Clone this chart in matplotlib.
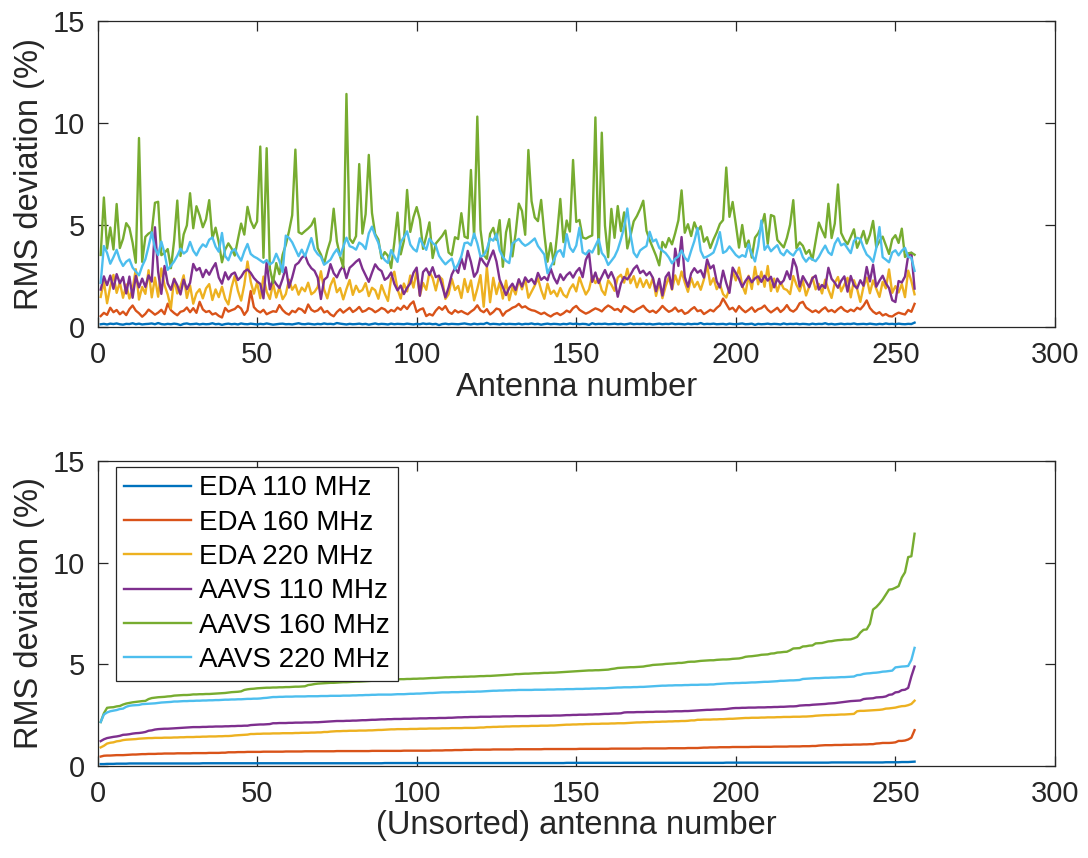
import matplotlib
matplotlib.use("Agg")
import matplotlib.pyplot as plt
import numpy as np

plt.rcParams["font.family"] = ["Liberation Sans", "DejaVu Sans"]

# RMS deviation (%) per antenna (antennas 1..256)
antenna = np.arange(1, 257)

eda_110 = [
    0.12, 0.14, 0.11, 0.15, 0.13, 0.16, 0.12, 0.10, 0.14, 0.13, 0.17, 0.12, 0.15, 0.11, 0.13, 0.14,
    0.16, 0.12, 0.18, 0.13, 0.11, 0.14, 0.12, 0.15, 0.13, 0.08, 0.14, 0.16, 0.12, 0.13, 0.15, 0.11,
    0.14, 0.12, 0.13, 0.17, 0.12, 0.14, 0.09, 0.13, 0.15, 0.12, 0.14, 0.11, 0.16, 0.13, 0.12, 0.15,
    0.13, 0.11, 0.14, 0.12, 0.16, 0.13, 0.10, 0.12, 0.14, 0.15, 0.12, 0.13, 0.11, 0.14, 0.17, 0.13,
    0.12, 0.15, 0.13, 0.11, 0.14, 0.12, 0.16, 0.13, 0.14, 0.12, 0.18, 0.15, 0.13, 0.11, 0.14, 0.12,
    0.13, 0.15, 0.12, 0.14, 0.10, 0.13, 0.16, 0.12, 0.14, 0.13, 0.11, 0.15, 0.12, 0.14, 0.13, 0.12,
    0.15, 0.13, 0.11, 0.14, 0.12, 0.16, 0.13, 0.15, 0.12, 0.14, 0.08, 0.13, 0.15, 0.12, 0.14, 0.13,
    0.12, 0.14, 0.16, 0.13, 0.11, 0.15, 0.12, 0.14, 0.13, 0.19, 0.12, 0.14, 0.13, 0.11, 0.15, 0.12,
    0.14, 0.13, 0.12, 0.15, 0.11, 0.14, 0.13, 0.16, 0.12, 0.14, 0.10, 0.13, 0.15, 0.12, 0.14, 0.13,
    0.11, 0.14, 0.12, 0.16, 0.13, 0.15, 0.12, 0.14, 0.13, 0.09, 0.17, 0.12, 0.14, 0.13, 0.15, 0.12,
    0.13, 0.15, 0.12, 0.14, 0.11, 0.13, 0.16, 0.12, 0.14, 0.13, 0.15, 0.12, 0.14, 0.11, 0.13, 0.15,
    0.12, 0.14, 0.13, 0.16, 0.12, 0.14, 0.13, 0.11, 0.15, 0.12, 0.14, 0.13, 0.18, 0.12, 0.14, 0.13,
    0.15, 0.12, 0.13, 0.14, 0.11, 0.15, 0.13, 0.12, 0.14, 0.16, 0.12, 0.13, 0.15, 0.09, 0.14, 0.12,
    0.13, 0.15, 0.12, 0.14, 0.13, 0.11, 0.16, 0.12, 0.14, 0.13, 0.15, 0.12, 0.14, 0.13, 0.11, 0.15,
    0.12, 0.14, 0.13, 0.17, 0.12, 0.14, 0.11, 0.13, 0.15, 0.12, 0.14, 0.13, 0.16, 0.12, 0.13, 0.14,
    0.12, 0.15, 0.13, 0.11, 0.14, 0.12, 0.16, 0.13, 0.14, 0.12, 0.15, 0.13, 0.12, 0.14, 0.13, 0.20,
]

eda_160 = [
    0.52, 0.68, 0.58, 0.93, 0.71, 0.82, 0.61, 0.74, 0.57, 0.86,
    1.04, 0.79, 0.66, 0.49, 0.63, 0.84, 0.72, 0.59, 0.69, 0.83,
    0.62, 1.13, 0.81, 0.67, 0.56, 0.73, 0.78, 0.94, 0.71, 0.91,
    0.68, 1.22, 0.85, 0.72, 0.77, 0.60, 0.66, 0.53, 0.45, 0.92,
    0.74, 0.81, 0.87, 1.02, 0.89, 0.58, 0.80, 1.75, 0.96, 0.79,
    0.70, 0.83, 0.61, 0.69, 0.76, 0.73, 1.06, 0.82, 0.67, 0.59,
    0.78, 0.71, 0.90, 0.84, 0.68, 1.09, 0.83, 0.74, 0.80, 0.95,
    0.70, 0.77, 0.60, 0.51, 0.72, 0.86, 0.69, 0.81, 0.93, 0.72,
    0.82, 0.97, 0.73, 0.79, 0.91, 0.84,
    0.71, 0.80, 0.92, 0.85, 0.69, 0.82, 0.75, 0.94, 0.83, 1.03,
    0.87, 1.10, 1.24, 0.72, 0.84, 0.90, 0.52, 0.62, 0.55, 0.79,
    0.96, 0.83, 1.01, 0.73, 0.63, 0.81, 0.70, 0.77, 0.68, 0.61,
    0.74, 0.85, 1.05, 0.80, 0.71, 0.86, 0.60, 0.72, 0.89, 0.84,
    0.54, 0.74, 0.82, 0.93, 0.99, 1.12, 0.94, 1.00, 0.88, 0.81,
    0.78, 0.70, 0.62, 0.69, 0.58, 0.50, 0.61, 0.67, 0.57, 0.66,
    0.79, 0.71, 0.91, 1.02, 0.83, 0.73, 0.64, 0.71, 0.81, 0.90,
    0.84, 0.75, 0.92, 1.04, 0.95, 0.82, 0.87, 0.73, 1.01, 0.92,
    0.80, 0.72, 0.85, 0.93,
    1.03, 0.84, 0.72, 0.79, 0.68, 0.83, 1.02, 0.86, 0.73, 0.80,
    0.94, 0.74, 0.82, 0.63, 0.70, 0.85, 0.96, 0.76, 0.81, 0.62,
    0.72, 0.83, 0.75, 0.92, 1.05, 1.38, 1.12, 0.85, 0.93, 0.74,
    1.01, 0.84, 0.71, 0.82, 0.95, 0.73, 0.86, 0.91, 1.04, 0.83,
    0.70, 0.81, 0.93, 0.72, 0.85, 1.06, 0.82, 0.74, 0.87, 1.15,
    1.22, 0.94, 0.83, 0.72, 0.80, 0.69, 0.84, 0.95, 0.75, 0.82,
    0.71, 0.86, 0.97, 0.81, 0.73, 0.84, 0.76, 0.93, 0.85, 1.03,
    1.29, 0.92, 0.74, 0.63, 0.71, 0.55, 0.62, 0.52, 0.50, 0.61,
    0.69, 0.64, 0.60, 0.82, 0.73, 1.12,
]

eda_220 = [
    1.46, 2.23, 1.15, 1.97, 2.54, 1.66, 2.18, 1.42, 2.07, 1.38,
    1.86, 2.82, 1.33, 1.95, 1.61, 2.77, 1.44, 2.41, 1.47, 2.86,
    2.04, 1.58, 0.90, 2.36, 1.63, 1.98, 2.52, 1.41, 2.02, 1.13,
    1.64, 1.84, 1.39, 1.88, 2.09, 1.31, 1.83, 1.45, 1.96, 1.37,
    1.09, 1.93, 2.49, 1.76, 1.28, 2.06, 3.20, 2.21, 1.62, 2.17,
    1.40, 2.46, 1.72, 1.36, 2.13, 1.43, 1.94, 1.35, 1.60, 2.31,
    1.81, 2.05, 1.57, 1.92, 1.74, 2.16, 1.59, 1.71, 1.95, 2.72,
    1.82, 1.39, 2.03, 2.38, 1.69, 1.90, 1.34, 1.85, 2.29, 1.56,
    2.01, 1.70, 1.80, 2.14, 1.50, 1.91,
    1.79, 1.37, 2.04, 1.62, 1.26, 2.37, 2.70, 1.84, 1.38, 2.12,
    1.73, 2.51, 1.92, 2.74, 1.52, 2.15, 1.81, 2.68, 2.39, 1.78,
    2.47, 2.33, 1.36, 1.59, 2.35, 1.80, 2.00, 1.41, 2.34, 1.70,
    2.27, 1.29, 1.86, 2.53, 0.98, 2.93, 1.20, 2.40, 1.60, 2.19,
    1.38, 2.26, 1.30, 1.94, 1.58, 2.30, 1.83, 2.36, 1.42, 1.72,
    2.02, 2.38, 1.80, 1.37, 2.11, 1.61, 1.77, 1.49, 1.90, 1.57,
    1.44, 1.85, 2.08, 1.73, 2.42, 1.97, 1.58, 1.83, 2.50, 2.14,
    2.35, 1.79, 1.56, 2.28, 2.06, 1.76, 2.41, 2.55, 2.16, 2.84,
    2.13, 2.48, 1.93, 2.37,
    1.95, 2.29, 1.91, 2.40, 1.51, 2.18, 1.40, 1.98, 2.43, 1.82,
    2.52, 2.07, 2.71, 2.17, 1.71, 2.39, 1.94, 2.20, 1.81, 2.32,
    3.04, 2.06, 2.38, 1.84, 2.09, 1.60, 1.43, 1.86, 2.73, 2.27,
    2.90, 2.03, 1.62, 2.50, 1.85, 2.94, 2.08, 2.70, 1.96, 2.98,
    1.75, 2.36, 1.72, 2.19, 1.87, 1.80, 1.60, 2.49, 2.05, 1.74,
    2.26, 1.53, 1.97, 2.42, 1.83, 2.10, 1.63, 2.31, 1.82, 1.41,
    2.15, 2.44, 1.73, 2.07, 2.40, 1.44, 2.28, 1.85, 1.22, 1.96,
    2.41, 1.64, 2.27, 1.86, 1.46, 2.20, 1.88, 2.81, 1.66, 1.99,
    1.68, 2.09, 1.45, 2.75, 2.23, 1.59,
]

aavs_110 = [
    1.82, 2.47, 2.04, 2.51, 1.86, 2.58, 2.13, 2.44, 1.63, 2.46,
    1.42, 2.49, 1.93, 2.36, 1.95, 2.52, 2.21, 4.88, 2.69, 1.61,
    2.98, 2.12, 1.81, 2.34, 2.03, 1.58, 2.31, 1.84, 2.15, 3.08,
    2.76, 2.88, 2.43, 2.79, 2.55, 2.86, 3.12, 2.41, 2.11, 2.67,
    2.32, 2.57, 2.66, 2.29, 2.45, 2.71, 2.81, 2.64, 2.39, 2.22,
    2.10, 1.39, 3.21, 1.83, 2.33, 2.09, 1.90, 2.35, 2.91, 1.92,
    2.42, 3.02, 3.14, 3.38, 3.51, 3.10, 2.87, 2.74, 2.40, 1.36,
    2.30, 2.44, 3.07, 2.63, 2.42, 2.77, 2.97, 2.38, 2.89, 3.03,
    3.19, 3.31, 2.85, 2.53, 2.20, 2.65,
    3.06, 2.84, 2.73, 2.30, 2.41, 2.66, 2.10, 1.78, 2.02, 1.60,
    1.91, 2.13, 2.65, 2.90, 1.52, 2.68, 2.86, 2.54, 2.92, 2.43,
    2.51, 2.00, 1.44, 1.93, 2.56, 2.87, 2.64, 3.36, 2.83, 3.72,
    3.18, 2.45, 2.69, 3.41, 3.16, 2.96, 3.37, 3.74, 3.20, 2.31,
    1.94, 1.55, 1.90, 2.11, 1.80, 2.33, 1.97, 2.42, 2.19, 2.34,
    2.09, 2.64, 2.30, 2.44, 2.28, 2.85, 2.40, 2.12, 2.57, 2.29,
    2.53, 2.67, 2.41, 2.70, 2.88, 2.43, 3.28, 3.61, 2.20, 2.66,
    2.14, 2.46, 2.78, 2.39, 2.68, 2.31, 1.47, 2.12, 2.44, 2.32,
    2.55, 2.84, 3.00, 2.63,
    2.75, 2.52, 2.68, 2.40, 1.74, 2.35, 1.53, 2.43, 2.66, 1.85,
    3.83, 2.98, 4.40, 2.44, 1.96, 2.62, 2.87, 2.65, 2.77, 2.41,
    3.30, 2.86, 3.01, 2.23, 1.92, 2.75, 2.14, 1.66, 2.90, 2.63,
    2.34, 1.95, 2.24, 2.46, 2.18, 2.37, 2.47, 2.20, 2.50, 2.26,
    2.45, 1.93, 2.36, 2.10, 2.27, 2.72, 2.33, 3.32, 2.92, 1.97,
    2.48, 2.21, 1.94, 2.38, 2.51, 1.82, 2.05, 1.90, 2.89, 2.35,
    2.16, 1.91, 2.25, 2.47, 1.72, 2.49, 2.03, 1.88, 2.28, 2.01,
    2.93, 2.22, 3.04, 1.96, 2.26, 2.50, 2.13, 1.89, 1.30, 1.21,
    2.24, 2.17, 2.46, 3.49, 3.63, 1.87,
]

aavs_160 = [
    3.52, 6.34, 3.83, 4.87, 3.79, 6.02, 3.86, 4.31, 5.08, 4.85, 4.12, 3.14, 9.26, 3.18, 4.41, 4.57,
    4.66, 6.08, 6.13, 3.51, 3.62, 3.81, 2.87, 4.22, 6.19, 3.47, 4.53, 4.97, 6.55, 4.83, 5.91, 5.46,
    4.88, 5.27, 6.21, 4.33, 4.86, 4.14, 3.16, 3.78, 4.09, 3.84, 3.49, 4.29, 5.06, 4.52, 5.88, 5.19,
    4.84, 5.16, 8.84, 3.38, 8.76, 2.85, 2.15, 3.12, 2.58, 3.53, 4.02, 4.68, 5.47, 8.69, 4.64, 4.55,
    4.69, 4.82, 4.98, 5.31, 3.85, 3.54, 3.09, 3.73, 4.24, 5.79, 4.18, 3.46, 2.92, 11.42, 4.32, 4.11,
    4.44, 7.98, 4.57, 5.52, 8.43, 5.58, 4.54, 4.28, 3.35, 3.66, 3.48, 2.88, 4.13, 5.60, 3.55, 4.21,
    6.71, 4.65, 5.38, 5.87, 5.26, 3.82, 4.43, 5.12, 3.37, 4.08, 4.27, 4.46, 4.72, 3.64, 3.51, 4.39,
    4.30, 5.57, 4.42, 4.34, 7.69, 4.37, 10.31, 4.76, 3.52, 3.33, 4.56, 4.85, 4.26, 5.23, 2.94, 4.63,
    5.28, 3.45, 4.58, 6.04, 5.68, 4.51, 8.67, 6.16, 5.36, 5.18, 6.22, 4.55, 3.19, 4.10, 3.06, 4.53,
    6.27, 4.15, 5.21, 4.67, 8.18, 5.14, 5.24, 4.38, 4.32, 4.41, 4.48, 10.27, 3.56, 9.52, 4.96, 3.41,
    5.78, 4.36, 5.92, 4.69, 5.61, 3.84, 4.47, 5.17, 5.43, 5.77, 6.18, 4.71, 4.25, 3.87, 3.48, 3.01,
    4.16, 3.89, 4.35, 4.04, 4.59, 5.22, 6.69, 4.61, 5.03, 4.45, 5.12, 4.70, 4.93, 4.17, 4.39, 3.86,
    4.28, 4.62, 5.04, 5.23, 7.81, 5.39, 6.12, 5.02, 3.88, 4.99, 3.91, 4.23, 3.39, 4.37, 4.58, 4.91,
    5.53, 4.06, 5.48, 5.41, 4.26, 4.07, 3.89, 4.36, 5.01, 6.21, 3.85, 4.14, 3.97, 3.58, 3.76, 3.28,
    4.19, 5.11, 4.73, 4.38, 6.03, 4.35, 5.06, 6.98, 4.60, 4.27, 4.05, 4.40, 4.78, 3.87, 4.24, 4.70,
    4.08, 4.51, 5.19, 3.90, 4.20, 4.42, 3.99, 3.57, 4.29, 4.49, 4.11, 4.81, 3.42, 3.60, 3.63, 3.53,
]

aavs_220 = [
    2.15, 3.96, 3.62, 3.09, 3.41, 3.77, 3.28, 2.98, 3.19, 3.30,
    2.90, 2.71, 2.52, 2.97, 3.31, 3.94, 4.63, 3.85, 3.52, 4.18,
    3.61, 2.79, 2.99, 3.20, 3.48, 3.83, 3.59, 3.71, 4.16, 3.73,
    3.50, 3.82, 4.04, 3.92, 4.27, 4.38, 3.93, 3.68, 4.60, 3.47,
    3.26, 3.69, 3.81, 3.49, 3.24, 3.70, 4.06, 3.57, 3.44, 3.36,
    3.25, 3.14, 3.27, 3.05, 3.17, 3.58, 3.22, 2.68, 4.47, 4.36,
    4.14, 3.80, 3.46,
    3.78, 3.45, 3.90, 4.35, 3.79, 3.56, 3.43, 3.04, 3.16, 3.29,
    3.58, 3.80, 3.47, 3.91, 4.37, 3.95, 3.89, 3.78, 4.13, 4.02,
    3.81, 4.58, 4.91, 4.46, 4.12, 3.50, 3.27, 3.13, 3.76, 3.45,
    3.18, 4.15, 4.39, 4.68, 4.03, 3.81, 3.69, 4.34, 4.00, 3.77,
    4.32, 4.11, 3.98, 3.48, 3.25, 3.06, 3.21, 3.34, 2.81, 3.07,
    3.46, 4.10, 4.13, 3.99, 4.57, 4.09, 3.44, 3.50, 3.79, 4.33,
    4.22, 4.55, 3.74, 3.42, 3.23,
    3.12, 4.08, 4.20, 4.31, 4.10, 3.97, 4.06, 4.19, 4.33, 3.96,
    3.75, 3.54, 2.62, 2.95, 3.26, 3.66, 3.76, 3.43, 4.54, 3.88,
    3.67, 3.98, 4.86, 3.65, 3.55, 3.75, 3.64, 3.97, 4.30, 3.62,
    3.42, 3.03, 3.23, 3.44, 3.78, 4.29, 4.88, 5.80, 4.52, 3.63,
    3.41, 3.74, 3.86, 3.96, 4.66, 4.18, 4.28, 3.87, 3.73, 3.61,
    3.40, 3.11, 3.33, 3.45, 3.74, 3.39, 3.22, 3.73, 4.20, 4.84,
    3.72, 3.38, 3.44, 3.53, 3.64, 4.07, 4.64, 3.62, 3.71, 3.94,
    3.73, 3.52, 3.40, 3.51, 3.43, 4.05, 3.55, 3.20, 3.95, 5.21,
    3.77, 3.99, 3.70, 3.86, 4.00, 3.63, 3.50, 3.76, 3.60, 3.49,
    3.74, 3.85, 3.41, 3.19, 3.39, 3.30, 3.21, 3.42, 3.72, 3.98,
    3.65, 3.52, 4.07, 4.34, 3.99, 4.08, 3.84, 3.61, 4.21, 4.36,
    4.31, 3.88, 3.54, 3.40, 3.18, 3.86, 4.89, 3.41, 3.29, 3.16,
    3.64, 3.75, 3.50, 3.73, 3.87, 3.42, 3.38, 2.74,
]

series_labels = ["EDA 110 MHz", "EDA 160 MHz", "EDA 220 MHz",
                 "AAVS 110 MHz", "AAVS 160 MHz", "AAVS 220 MHz"]
series = [eda_110, eda_160, eda_220, aavs_110, aavs_160, aavs_220]
# MATLAB default colour order
colors = ["#0072BD", "#D95319", "#EDB120", "#7E2F8E", "#77AC30", "#4DBEEE"]

for name, s in zip(series_labels, series):
    assert len(s) == len(antenna), (name, len(s))

INK = "#262626"
W, H = 1088, 858


def style_axes(ax, xlabel, xlabel_y):
    ax.set_xlim(0, 300)
    ax.set_ylim(0, 15)
    ax.set_xticks(np.arange(0, 301, 50))
    ax.set_yticks([0, 5, 10, 15])
    ax.tick_params(direction="in", length=7, width=0.9, top=True, right=True,
                   labelsize=21, colors=INK)
    ax.tick_params(axis="x", pad=10.5)
    ax.tick_params(axis="y", pad=9)
    for sp in ax.spines.values():
        sp.set_color(INK)
        sp.set_linewidth(0.9)
    ax.set_ylabel("RMS deviation (%)", fontsize=23.5, color=INK)
    ax.yaxis.set_label_coords(-0.055, 0.5)
    ax.set_xlabel(xlabel, fontsize=23.5, color=INK)
    ax.xaxis.set_label_coords(0.5, xlabel_y)


fig = plt.figure(figsize=(W / 100, H / 100), dpi=100)
ax_top = fig.add_axes([97.5 / W, 1 - 326.7 / H, 957.5 / W, 305.7 / H])
ax_bot = fig.add_axes([97.5 / W, 1 - 765.7 / H, 957.5 / W, 304.7 / H])

# top: per-antenna values in antenna order
for s, c, lab in zip(series, colors, series_labels):
    ax_top.plot(antenna, s, color=c, lw=1.7, label=lab)
style_axes(ax_top, "Antenna number", -0.148)

# bottom: same values sorted ascending
for s, c, lab in zip(series, colors, series_labels):
    ax_bot.plot(antenna, np.sort(s), color=c, lw=1.7, label=lab)
style_axes(ax_bot, "(Unsorted) antenna number", -0.145)

leg = ax_bot.legend(loc="upper left", bbox_to_anchor=(0.0193, 0.980), borderaxespad=0,
                    fontsize=20, handlelength=2.4, handletextpad=0.3, labelspacing=0.3,
                    borderpad=0.3, fancybox=False, framealpha=1, edgecolor=INK)
leg.get_frame().set_linewidth(0.9)

fig.savefig("out.png", dpi=100)
